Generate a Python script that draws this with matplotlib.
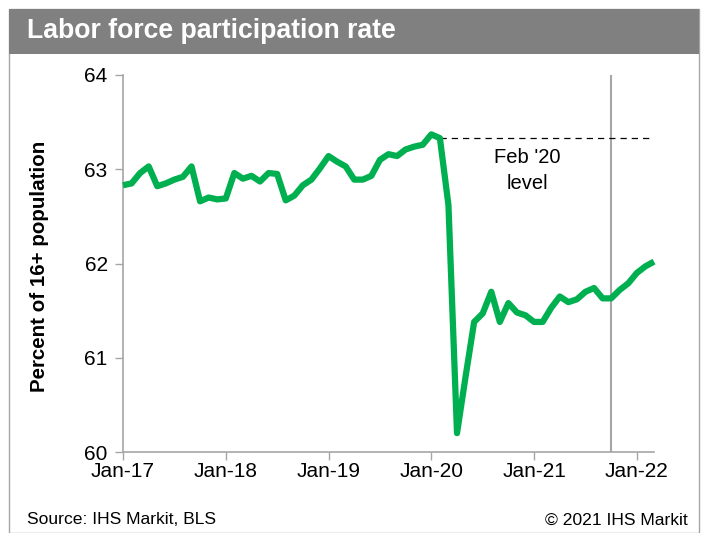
import matplotlib
matplotlib.use("Agg")
import matplotlib.pyplot as plt
from matplotlib.patches import Rectangle

plt.rcParams['font.family'] = ['Liberation Sans', 'DejaVu Sans']

# Monthly labor force participation rate, Jan-17 .. Mar-22 (percent)
rate_2017 = [62.83, 62.85, 62.96, 63.03, 62.82, 62.85, 62.89, 62.92, 63.03, 62.66, 62.70, 62.68]
rate_2018 = [62.69, 62.96, 62.90, 62.93, 62.87, 62.96, 62.95, 62.67, 62.72, 62.83, 62.89, 63.01]
rate_2019 = [63.14, 63.08, 63.03, 62.89, 62.89, 62.93, 63.10, 63.16, 63.14, 63.21, 63.24, 63.26]
rate_2020 = [63.37, 63.33, 62.62, 60.20, 60.80, 61.38, 61.47, 61.70, 61.38, 61.58, 61.48, 61.45]
rate_2021 = [61.38, 61.38, 61.53, 61.65, 61.59, 61.62, 61.70, 61.74, 61.63, 61.63, 61.72, 61.79]
rate_2022 = [61.90, 61.97, 62.02]

rate = rate_2017 + rate_2018 + rate_2019 + rate_2020 + rate_2021 + rate_2022
months = list(range(len(rate)))

tick_months = [0, 12, 24, 36, 48, 60]
tick_labels = ["Jan-17", "Jan-18", "Jan-19", "Jan-20", "Jan-21", "Jan-22"]
y_ticks = [60, 61, 62, 63, 64]

feb20_index = 37          # Feb '20 reference month
history_end_index = 57    # Oct-21, last month of published data
feb20_level = rate[feb20_index]

W, H = 702, 533
fig = plt.figure(figsize=(W / 100, H / 100), dpi=100)

# outer frame and title band
fig.patches.append(Rectangle((9 / W, 0), 690 / W, 1 - 9 / H, transform=fig.transFigure,
                             fill=False, edgecolor="#A6A6A6", linewidth=1.0))
fig.patches.append(Rectangle((9 / W, 1 - 54 / H), 690 / W, 45 / H, transform=fig.transFigure,
                             facecolor="#808080", edgecolor="none"))
fig.text(27 / W, 1 - 31.5 / H, "Labor force participation rate", color="white",
         fontsize=19.2, fontweight="bold", ha="left", va="center")

ax = fig.add_axes([123 / W, 1 - 452 / H, (654 - 123) / W, (452 - 75) / H])
ax.plot(months, rate, color="#00B050", linewidth=4.5, solid_joinstyle="round",
        solid_capstyle="butt", zorder=3, clip_on=False)

ax.axvline(history_end_index, color="#A6A6A6", linewidth=1.5, zorder=2)
ax.plot([feb20_index, months[-1]], [feb20_level, feb20_level], color="black",
        linewidth=0.9, linestyle=(0, (5, 4)), zorder=2)
ax.text(47.2, 62.99, "Feb '20\nlevel", ha="center", va="center", fontsize=14.5,
        linespacing=1.45)

ax.set_xlim(0, 62)
ax.set_ylim(60, 64)
ax.set_xticks(tick_months)
ax.set_xticklabels(tick_labels)
ax.set_yticks(y_ticks)
ax.tick_params(axis="both", direction="out", length=6, width=1, color="#A6A6A6",
               labelsize=15, labelcolor="black")
ax.tick_params(axis="x", pad=1)
ax.tick_params(axis="y", pad=5)
for side in ("top", "right"):
    ax.spines[side].set_visible(False)
for side in ("left", "bottom"):
    ax.spines[side].set_color("#A6A6A6")
    ax.spines[side].set_linewidth(1.2)

fig.text(40 / W, 1 - 266 / H, "Percent of 16+ population", rotation=90,
         fontsize=14.8, fontweight="bold", ha="center", va="center")

fig.text(27 / W, 1 - 520 / H, "Source: IHS Markit, BLS", fontsize=12.6,
         ha="left", va="center")
fig.text(688 / W, 1 - 520 / H, "\u00a9 2021 IHS Markit", fontsize=12.6,
         ha="right", va="center")

fig.savefig("out.png", dpi=100)
